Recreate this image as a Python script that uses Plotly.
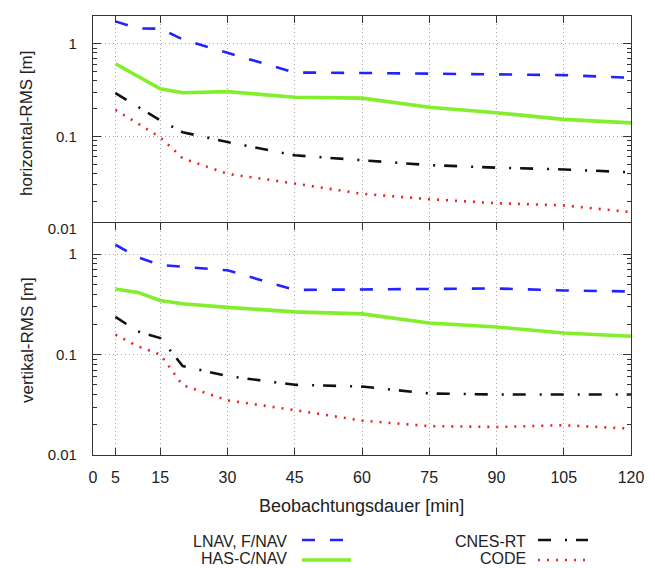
import plotly.graph_objects as go

minutes = [5, 10, 15, 20, 30, 45, 60, 75, 90, 105, 120]

# horizontal RMS [m]
lnav_h = [1.75, 1.47, 1.46, 1.12, 0.80, 0.49, 0.485, 0.475, 0.47, 0.46, 0.43]
has_h = [0.61, 0.45, 0.327, 0.296, 0.305, 0.265, 0.259, 0.207, 0.18, 0.153, 0.14]
cnes_h = [0.293, 0.207, 0.149, 0.111, 0.087, 0.0625, 0.055, 0.049, 0.046, 0.044, 0.041]
code_h = [0.194, 0.137, 0.098, 0.058, 0.0395, 0.031, 0.024, 0.021, 0.019, 0.018, 0.0152]

# vertical RMS [m]
lnav_v = [1.24, 0.93, 0.78, 0.75, 0.69, 0.44, 0.445, 0.45, 0.455, 0.435, 0.425]
has_v = [0.45, 0.416, 0.346, 0.32, 0.295, 0.266, 0.254, 0.206, 0.188, 0.164, 0.152]
cnes_v = [0.237, 0.17, 0.146, 0.077, 0.061, 0.05, 0.048, 0.041, 0.040, 0.040, 0.040]
code_v = [0.158, 0.121, 0.1, 0.0496, 0.035, 0.028, 0.022, 0.0194, 0.019, 0.0198, 0.0183]

series_names = ["LNAV, F/NAV", "HAS-C/NAV", "CNES-RT", "CODE"]
x_ticks = [0, 5, 15, 30, 45, 60, 75, 90, 105, 120]
y_ticks = [0.01, 0.1, 1]
y_ticktext = ["0.01", "0.1", "1"]

BLUE = "#2323ff"
GREEN = "#82ee2c"
BLACK = "#111111"
RED = "#ee2222"
styles = [
    dict(color=BLUE, width=2.6, dash="13px,15px"),
    dict(color=GREEN, width=3.6),
    dict(color=BLACK, width=2.6, dash="13px,14px,2px,9px"),
    dict(color=RED, width=2.6, dash="2px,7px"),
]

FONT = "Liberation Sans, Arial, sans-serif"
TXT = "#222222"

fig = go.Figure()
for vals, st, nm in zip([lnav_h, has_h, cnes_h, code_h], styles, series_names):
    fig.add_trace(go.Scatter(x=minutes, y=vals, mode="lines", line=st, name=nm,
                             xaxis="x", yaxis="y", showlegend=False))
for vals, st, nm in zip([lnav_v, has_v, cnes_v, code_v], styles, series_names):
    fig.add_trace(go.Scatter(x=minutes, y=vals, mode="lines", line=st, name=nm,
                             xaxis="x2", yaxis="y2", showlegend=False))

W, H = 655, 568
ML, MR, MT, MB = 93, 24, 16, 113
PW, PH = W - ML - MR, H - MT - MB


def px(x):
    return (x - ML) / PW


def py(y):
    return 1 - (y - MT) / PH


GRID_DASH = "1px,3px"
common_x = dict(range=[0, 120], tickmode="array", tickvals=x_ticks,
                ticks="inside", ticklen=7, tickcolor="#333", mirror="allticks",
                showline=True, linecolor="#333", linewidth=1.3,
                showgrid=True, gridcolor="#a8a8a8", griddash=GRID_DASH, gridwidth=1,
                zeroline=False, automargin=False,
                tickfont=dict(family=FONT, size=16, color=TXT), ticklabelstandoff=8)
common_y = dict(type="log", tickmode="array", tickvals=y_ticks, ticktext=y_ticktext,
                ticks="inside", ticklen=8, tickcolor="#333", mirror="allticks",
                showline=True, linecolor="#333", linewidth=1.3,
                showgrid=True, gridcolor="#a8a8a8", griddash=GRID_DASH, gridwidth=1,
                zeroline=False, automargin=False,
                minor=dict(dtick="D1", ticks="inside", ticklen=4, tickcolor="#333",
                           showgrid=False),
                tickfont=dict(family=FONT, size=15, color=TXT), ticklabelstandoff=12)

fig.update_layout(
    width=W, height=H,
    margin=dict(l=ML, r=MR, t=MT, b=MB, autoexpand=False),
    paper_bgcolor="white", plot_bgcolor="white",
    font=dict(family=FONT, size=15, color=TXT),
    xaxis=dict(common_x, anchor="y", domain=[0, 1], showticklabels=False),
    yaxis=dict(common_y, anchor="x", domain=[py(229), 1], range=[-2, 0.301]),
    xaxis2=dict(common_x, anchor="y2", domain=[0, 1]),
    yaxis2=dict(common_y, anchor="x2", domain=[0, py(223)], range=[-2, 0.31]),
    showlegend=False,
)

ann = [
    dict(text="Beobachtungsdauer [min]", x=px(361), y=py(506), xref="paper", yref="paper",
         showarrow=False, xanchor="center", yanchor="middle", font=dict(size=18)),
    dict(text="horizontal-RMS [m]", x=px(27), y=py(124), xref="paper", yref="paper",
         showarrow=False, textangle=-90, xanchor="center", yanchor="middle", font=dict(size=17)),
    dict(text="vertikal-RMS [m]", x=px(27), y=py(340), xref="paper", yref="paper",
         showarrow=False, textangle=-90, xanchor="center", yanchor="middle", font=dict(size=17)),
]

legend_pos = [(289, 302, 351, 541), (289, 302, 351, 558), (528, 538, 588, 541), (528, 538, 588, 558)]
line_y = [540, 560, 540, 560]
shapes = []
for (tx, x0, x1, ty), ly, st, nm in zip(legend_pos, line_y, styles, series_names):
    ann.append(dict(text=nm, x=px(tx), y=py(ty), xref="paper", yref="paper",
                    showarrow=False, xanchor="right", yanchor="middle", font=dict(size=16)))
    shapes.append(dict(type="line", xref="paper", yref="paper",
                       x0=px(x0), x1=px(x1), y0=py(ly), y1=py(ly), line=st))

fig.update_layout(annotations=ann, shapes=shapes)
fig.write_html("out.html", config={"displayModeBar": False},
               post_script="document.body.style.margin='0px';document.body.style.overflow='hidden';")
